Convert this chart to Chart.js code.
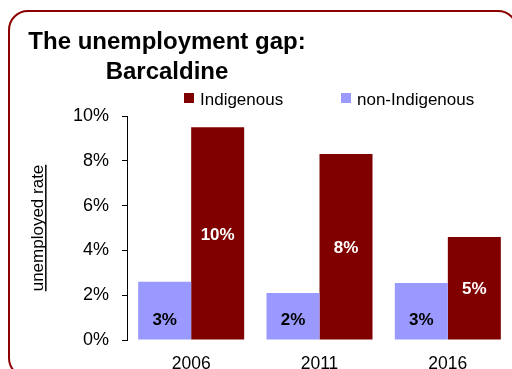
<!DOCTYPE html>
<html>
<head>
<meta charset="utf-8">
<script src="https://cdn.jsdelivr.net/npm/chart.js@4/dist/chart.umd.min.js"></script>
<style>
  html, body { margin: 0; padding: 0; background: #fff; }
  #wrap { position: relative; width: 512px; height: 369px; overflow: hidden;
          font-family: "Liberation Sans", Arial, Helvetica, sans-serif; color: #000; }
  #c { position: absolute; left: 0; top: 0; }
  #frame { position: absolute; left: 8px; top: 10px; width: 506px; height: 364px;
           border: 2px solid #8b0000; border-radius: 20px; pointer-events: none; }
  #title { position: absolute; left: 0; top: 26px; width: 334px; text-align: center;
           font-weight: bold; font-size: 24px; line-height: 29.5px; }
  .lg-text { position: absolute; top: 90px; font-size: 17px; line-height: 20px; white-space: nowrap; }
  .lg-box { position: absolute; top: 93px; width: 10px; height: 10px; }
</style>
</head>
<body>
<div id="wrap">
  <canvas id="c" width="512" height="369"></canvas>
  <div id="title">The unemployment gap:<br>Barcaldine</div>
  <div id="legend"></div>
  <div id="frame"></div>
</div>
<script>
// Census years and unemployment rates (%)
const years = ['2006', '2011', '2016'];
const seriesNames = ['non-Indigenous', 'Indigenous'];
const nonIndigenousRate = [2.6, 2.1, 2.55];
const indigenousRate = [9.5, 8.3, 4.6];
const yTicks = [0, 2, 4, 6, 8, 10];
const axisTitle = 'unemployed rate';

const seriesColors = ['#9999ff', '#800000'];
const valueLabelColors = ['#000000', '#ffffff'];
const FONT = '"Liberation Sans", Arial, Helvetica, sans-serif';

// Legend: Indigenous first, then non-Indigenous
const legendEl = document.getElementById('legend');
const legendOrder = [1, 0];
const legendLeft = [184, 341];
legendOrder.forEach((si, i) => {
  const box = document.createElement('div');
  box.className = 'lg-box';
  box.style.left = legendLeft[i] + 'px';
  box.style.background = seriesColors[si];
  legendEl.appendChild(box);
  const txt = document.createElement('div');
  txt.className = 'lg-text';
  txt.style.left = (legendLeft[i] + 16) + 'px';
  txt.textContent = seriesNames[si];
  legendEl.appendChild(txt);
});

const TITLE_SIZE = 17;
const TITLE_PAD_TOP = 28;

// Underline the rotated y-axis title
const underlineTitle = {
  id: 'underlineTitle',
  afterDraw(chart) {
    const s = chart.scales.y;
    const ctx = chart.ctx;
    ctx.save();
    ctx.font = TITLE_SIZE + 'px ' + FONT;
    const w = ctx.measureText(axisTitle).width;
    const cx = s.left + TITLE_PAD_TOP + TITLE_SIZE * 1.2 / 2;
    const cy = (s.top + s.bottom) / 2;
    const x = cx + TITLE_SIZE * 0.36 + 1.5;
    ctx.strokeStyle = '#000';
    ctx.lineWidth = 1.5;
    ctx.beginPath();
    ctx.moveTo(x, cy - w / 2);
    ctx.lineTo(x, cy + w / 2);
    ctx.stroke();
    ctx.restore();
  }
};

// Rounded percentage labels inside each bar
const valueLabels = {
  id: 'valueLabels',
  afterDatasetsDraw(chart) {
    const ctx = chart.ctx;
    ctx.save();
    ctx.font = 'bold 17px ' + FONT;
    ctx.textAlign = 'center';
    ctx.textBaseline = 'middle';
    chart.data.datasets.forEach((ds, di) => {
      const meta = chart.getDatasetMeta(di);
      meta.data.forEach((bar, i) => {
        const v = ds.data[i];
        const y = di === 1 ? (bar.y + bar.base) / 2 + 1.5 : bar.base - 19;
        ctx.fillStyle = valueLabelColors[di];
        ctx.fillText(Math.round(v) + '%', bar.x, y);
      });
    });
    ctx.restore();
  }
};

new Chart(document.getElementById('c'), {
  type: 'bar',
  data: {
    labels: years,
    datasets: [
      { label: seriesNames[0], data: nonIndigenousRate, backgroundColor: seriesColors[0] },
      { label: seriesNames[1], data: indigenousRate, backgroundColor: seriesColors[1] }
    ]
  },
  options: {
    responsive: false,
    animation: false,
    devicePixelRatio: 1,
    layout: { padding: { top: 116, left: 0, right: 0, bottom: 0 } },
    datasets: { bar: { categoryPercentage: 0.826, barPercentage: 1.0, borderWidth: 0 } },
    plugins: { legend: { display: false }, title: { display: false }, tooltip: { enabled: false } },
    scales: {
      x: {
        grid: { display: false, drawTicks: false },
        border: { display: false },
        ticks: { color: '#000', padding: 14, font: { family: FONT, size: 17.5 } },
        afterFit(s) { s.height = 29; }
      },
      y: {
        min: 0,
        max: 10,
        afterBuildTicks(s) { s.ticks = yTicks.map(v => ({ value: v })); },
        grid: { display: true, drawOnChartArea: false, drawTicks: true, tickLength: 5, color: '#000' },
        border: { display: true, color: '#000', width: 1 },
        ticks: { color: '#000', padding: 13, font: { family: FONT, size: 18 },
                 callback: v => v + '%' },
        title: { display: true, text: axisTitle, color: '#000',
                 font: { family: FONT, size: TITLE_SIZE },
                 padding: { top: TITLE_PAD_TOP, bottom: 0 } },
        afterFit(s) { s.width = 127; }
      }
    }
  },
  plugins: [valueLabels, underlineTitle]
});
</script>
</body>
</html>
